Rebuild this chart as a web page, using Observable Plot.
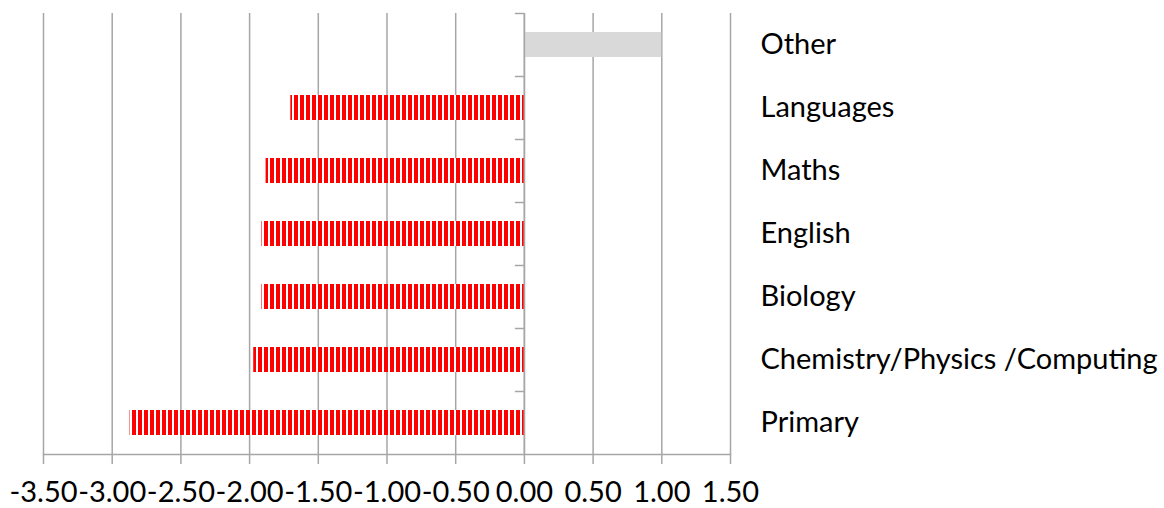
<!DOCTYPE html>
<html>
<head>
<meta charset="utf-8">
<script src="https://cdn.jsdelivr.net/npm/d3@7"></script>
<script src="https://cdn.jsdelivr.net/npm/@observablehq/plot@0.6"></script>
<style>
  html, body { margin: 0; padding: 0; background: #fff; }
  svg { display: block; }
</style>
</head>
<body>
<div id="chart"></div>
<script>
const categories = ["Other", "Languages", "Maths", "English", "Biology", "Chemistry/Physics /Computing", "Primary"];
const values = [1.00, -1.70, -1.88, -1.91, -1.91, -1.97, -2.87];
const xTicks = [-3.5, -3.0, -2.5, -2.0, -1.5, -1.0, -0.5, 0, 0.5, 1.0, 1.5];

const data = categories.map((c, i) => ({category: c, value: values[i]}));
const grey = "#a6a6a6";

const chart = Plot.plot({
  width: 1164,
  height: 508,
  marginTop: 13,
  marginBottom: 54,
  marginLeft: 43,
  marginRight: 434,
  style: {fontFamily: "Lato, 'Open Sans', sans-serif", fontSize: "29px", color: "#000", background: "#fff"},
  x: {type: "linear", domain: [-3.5, 1.5], label: null},
  y: {domain: categories, padding: 0, label: null},
  marks: [
    Plot.gridX({ticks: xTicks, stroke: grey, strokeOpacity: 1, strokeWidth: 1.5}),
    Plot.frame({anchor: "bottom", stroke: grey, strokeWidth: 1.5}),
    Plot.axisX({ticks: xTicks, tickFormat: d => d.toFixed(2), tickSize: 10, tickPadding: 17, stroke: grey, strokeWidth: 1.5, fill: "#000", fontSize: 29, label: null}),
    Plot.axisY({anchor: "right", tickSize: 0, tickPadding: 30, fill: "#000", fontSize: 29, label: null}),
    Plot.barX(data.filter(d => d.value < 0), {
      x1: 0, x2: "value", y: "category",
      insetTop: 19, insetBottom: 19,
      fill: "url(#stripes)"
    }),
    Plot.barX(data.filter(d => d.value >= 0), {
      x1: 0, x2: "value", y: "category",
      insetTop: 19, insetBottom: 19,
      fill: "#d9d9d9"
    }),
    Plot.ruleX([0], {stroke: grey, strokeWidth: 1.5}),
    Plot.ruleY(categories, {y: d => d, dy: -31.5, x1: -0.066, x2: 0, stroke: grey, strokeWidth: 1.5}),
  ]
});

const svg = d3.select(chart);
const pat = svg.insert("defs", ":first-child")
  .append("pattern")
  .attr("id", "stripes")
  .attr("patternUnits", "userSpaceOnUse")
  .attr("width", 6)
  .attr("height", 10);
pat.append("rect").attr("x", 0).attr("y", 0).attr("width", 6).attr("height", 10).attr("fill", "#fff");
pat.append("rect").attr("x", 0).attr("y", 0).attr("width", 4).attr("height", 10).attr("fill", "#ff0000");

document.getElementById("chart").appendChild(chart);
</script>
</body>
</html>
